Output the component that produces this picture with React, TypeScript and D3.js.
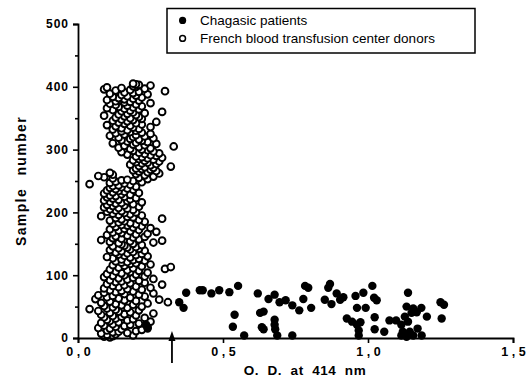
import { useRef, useEffect } from "react";
import * as d3 from "d3";

// O.D. at 414 nm for donors, sample number = index + 1
const donorOD = [
  0.11, 0.09, 0.12, 0.19, 0.10, 0.13, 0.08, 0.17, 0.12, 0.14, 0.20, 0.10, 0.22, 0.15, 0.11,
  0.07, 0.24, 0.13, 0.16, 0.09, 0.18, 0.12, 0.21, 0.08, 0.14, 0.25, 0.11, 0.17, 0.10, 0.19,
  0.13, 0.23, 0.09, 0.15, 0.12, 0.20, 0.08, 0.16, 0.26, 0.11, 0.18, 0.14, 0.07, 0.21, 0.13,
  0.04, 0.10, 0.17, 0.12, 0.22, 0.09, 0.15, 0.19, 0.13, 0.24, 0.08, 0.31, 0.11, 0.20, 0.16,
  0.28, 0.06, 0.14, 0.18, 0.10, 0.23, 0.12, 0.07, 0.21, 0.16, 0.26, 0.09, 0.13, 0.19, 0.15,
  0.11, 0.22, 0.17, 0.09, 0.25, 0.14, 0.20, 0.12, 0.16, 0.29, 0.10, 0.18, 0.23, 0.13, 0.15,
  0.21, 0.11, 0.17, 0.26, 0.14, 0.19, 0.09, 0.23, 0.12, 0.16, 0.20, 0.10, 0.15, 0.24, 0.18,
  0.13, 0.21, 0.17, 0.11, 0.30, 0.19, 0.14, 0.32, 0.22, 0.16, 0.12, 0.25, 0.18, 0.20, 0.15,
  0.17, 0.13, 0.23, 0.19, 0.15, 0.21, 0.12, 0.18, 0.10, 0.24, 0.16, 0.20, 0.14, 0.22, 0.17,
  0.13, 0.19, 0.15, 0.23, 0.11, 0.18, 0.21, 0.14, 0.17, 0.20, 0.12, 0.16, 0.22, 0.15, 0.19,
  0.14, 0.26, 0.11, 0.18, 0.29, 0.08, 0.21, 0.15, 0.12, 0.19, 0.23, 0.13, 0.17, 0.10, 0.20,
  0.24, 0.15, 0.12, 0.27, 0.18, 0.14, 0.21, 0.11, 0.16, 0.25, 0.19, 0.13, 0.22, 0.17, 0.15,
  0.20, 0.12, 0.18, 0.14, 0.23, 0.16, 0.11, 0.21, 0.15, 0.29, 0.13, 0.19, 0.17, 0.08, 0.22,
  0.14, 0.18, 0.12, 0.16, 0.20, 0.10, 0.15, 0.13, 0.19, 0.11, 0.17, 0.14, 0.09, 0.21, 0.12,
  0.16, 0.10, 0.19, 0.13, 0.15, 0.22, 0.11, 0.17, 0.09, 0.14, 0.18, 0.12, 0.20, 0.10, 0.16,
  0.13, 0.11, 0.18, 0.15, 0.09, 0.21, 0.12, 0.16, 0.14, 0.10, 0.19, 0.13, 0.17, 0.11, 0.15,
  0.20, 0.12, 0.14, 0.18, 0.04, 0.16, 0.11, 0.22, 0.13, 0.19, 0.15, 0.17, 0.24, 0.12, 0.21,
  0.09, 0.26, 0.07, 0.23, 0.12, 0.20, 0.28, 0.11, 0.24, 0.21, 0.27, 0.19, 0.25, 0.22, 0.20,
  0.26, 0.23, 0.32, 0.21, 0.25, 0.18, 0.27, 0.22, 0.24, 0.20, 0.28, 0.23, 0.19, 0.26, 0.21,
  0.24, 0.29, 0.22, 0.20, 0.27, 0.25, 0.17, 0.23, 0.28, 0.21, 0.15, 0.26, 0.19, 0.24, 0.22,
  0.18, 0.25, 0.14, 0.21, 0.33, 0.16, 0.23, 0.19, 0.27, 0.12, 0.20, 0.24, 0.17, 0.22, 0.15,
  0.21, 0.18, 0.26, 0.14, 0.19, 0.23, 0.11, 0.20, 0.16, 0.25, 0.13, 0.22, 0.18, 0.15, 0.20,
  0.17, 0.12, 0.21, 0.15, 0.19, 0.25, 0.13, 0.18, 0.10, 0.22, 0.16, 0.20, 0.14, 0.27, 0.17,
  0.12, 0.19, 0.15, 0.22, 0.18, 0.13, 0.21, 0.16, 0.09, 0.20, 0.14, 0.17, 0.23, 0.19, 0.29,
  0.15, 0.18, 0.12, 0.21, 0.16, 0.10, 0.19, 0.14, 0.22, 0.17, 0.13, 0.20, 0.11, 0.25, 0.16,
  0.18, 0.13, 0.21, 0.10, 0.16, 0.19, 0.14, 0.22, 0.12, 0.17, 0.20, 0.15, 0.24, 0.11, 0.19,
  0.16, 0.21, 0.30, 0.13, 0.18, 0.09, 0.23, 0.15, 0.10, 0.20, 0.19, 0.25, 0.21, 0.20, 0.19,
];

// Chagasic patients: O.D. and sample number
const chagasicOD = [
  0.235, 0.24, 0.349, 0.364, 0.373, 0.42, 0.43, 0.46, 0.487, 0.522,
  0.552, 0.54, 0.534, 0.573, 0.62, 0.628, 0.64, 0.634, 0.64, 0.657,
  0.678, 0.678, 0.678, 0.68, 0.687, 0.695, 0.716, 0.739, 0.739, 0.763,
  0.777, 0.783, 0.794, 0.804, 0.851, 0.863, 0.869, 0.874, 0.892, 0.904,
  0.915, 0.927, 0.945, 0.957, 0.962, 0.962, 0.968, 0.968, 0.974, 0.984,
  0.992, 1.015, 1.021, 1.03, 1.023, 1.023, 1.056, 1.074, 1.097, 1.115,
  1.115, 1.127, 1.133, 1.138, 1.138, 1.144, 1.15, 1.156, 1.168, 1.171,
  1.185, 1.184, 1.203, 1.25, 1.262, 1.254, 1.12, 1.133, 1.156,
];
const chagasicSample = [
  21, 15, 57, 48, 72, 76, 76, 71, 76, 73,
  83, 37, 18, 4, 71, 40, 42, 17, 14, 62,
  69, 29, 21, 14, 4, 57, 60, 52, 4, 44,
  62, 83, 80, 48, 61, 80, 86, 54, 71, 61,
  65, 31, 26, 67, 48, 21, 12, 4, 25, 72,
  48, 83, 64, 60, 33, 14, 10, 28, 28, 21,
  4, 34, 50, 72, 26, 10, 40, 47, 41, 15,
  4, 48, 34, 57, 53, 31, 10, 2, 4,
];

const xTicks = [0, 0.5, 1.0, 1.5];
const yTicks = [0, 100, 200, 300, 400, 500];
const yMinorTicks = [50, 150, 250, 350, 450];
const cutoff = 0.324;
const legendLabels = ["Chagasic patients", "French blood transfusion center donors"];

const font = "'Liberation Sans', Arial, Helvetica, sans-serif";

export default function App() {
  const xRef = useRef<SVGGElement>(null),
    yRef = useRef<SVGGElement>(null),
    yMinorRef = useRef<SVGGElement>(null);
  const width = 531,
    height = 383;

  const x = d3.scaleLinear().domain([0, 1.5]).range([78, 513]);
  const y = d3.scaleLinear().domain([0, 500]).range([338, 24]);

  useEffect(() => {
    const xa = d3
      .axisBottom(x)
      .tickValues(xTicks)
      .tickSize(5)
      .tickPadding(4)
      .tickFormat((d) => d3.format(".1f")(d as number).replace(".", ","));
    const ya = d3.axisLeft(y).tickValues(yTicks).tickSize(5).tickPadding(4);
    const ym = d3.axisLeft(y).tickValues(yMinorTicks).tickSize(3).tickFormat(() => "");

    const gx = d3.select(xRef.current).call(xa as any);
    const gy = d3.select(yRef.current).call(ya as any);
    const gm = d3.select(yMinorRef.current).call(ym as any);

    [gx, gy, gm].forEach((g) => {
      g.selectAll(".domain").attr("stroke", "#000").attr("stroke-width", 1.8);
      g.selectAll(".tick line").attr("stroke", "#000").attr("stroke-width", 1.6);
    });
    gm.select(".domain").remove();
    gx.selectAll(".tick text")
      .attr("font-family", font)
      .attr("font-weight", "bold")
      .attr("font-size", 12.5)
      .attr("letter-spacing", 3.5)
      .attr("dx", 1.7)
      .attr("fill", "#000");
    gy.selectAll(".tick text")
      .attr("font-family", font)
      .attr("font-weight", "bold")
      .attr("font-size", 12)
      .attr("letter-spacing", 1)
      .attr("fill", "#000");
  }, []);

  return (
    <svg
      width={width}
      height={height}
      viewBox={`0 0 ${width} ${height}`}
      style={{ position: "absolute", left: 0, top: 0, background: "#fff" }}
    >
      <rect width={width} height={height} fill="#fff" />
      <g>
        {donorOD.map((v, i) => (
          <circle
            key={"d" + i}
            cx={x(v)}
            cy={y(i + 1)}
            r={3.4}
            fill="#fff"
            stroke="#000"
            strokeWidth={1.9}
          />
        ))}
      </g>
      <g>
        {chagasicOD.map((v, i) => (
          <circle key={"c" + i} cx={x(v)} cy={y(chagasicSample[i])} r={4.2} fill="#000" />
        ))}
      </g>
      <g ref={xRef} transform={`translate(0, ${y(0)})`} />
      <g ref={yRef} transform={`translate(${x(0)}, 0)`} />
      <g ref={yMinorRef} transform={`translate(${x(0)}, 0)`} />

      {/* cutoff arrow */}
      <line x1={x(cutoff)} x2={x(cutoff)} y1={339} y2={363} stroke="#000" strokeWidth={1.8} />
      <path
        d={`M${x(cutoff)},331 L${x(cutoff) - 3.5},341 L${x(cutoff) + 3.5},341 Z`}
        fill="#000"
      />

      <text
        x={305}
        y={375}
        textAnchor="middle"
        fontFamily={font}
        fontWeight="bold"
        fontSize={13.5}
        letterSpacing={0.6}
        wordSpacing={4}
      >
        O. D. at 414 nm
      </text>
      <text
        transform={`translate(26, 181) rotate(-90)`}
        textAnchor="middle"
        fontFamily={font}
        fontWeight="bold"
        fontSize={14}
        letterSpacing={1.4}
        wordSpacing={7}
      >
        Sample number
      </text>

      {/* legend */}
      <rect x={167} y={8.5} width={308} height={44.5} fill="#fff" stroke="#000" strokeWidth={1.5} />
      <circle cx={182.6} cy={20.4} r={3.6} fill="#000" />
      <circle cx={182.6} cy={38.4} r={2.9} fill="#fff" stroke="#000" strokeWidth={1.5} />
      {legendLabels.map((t, i) => (
        <text key={t} x={200} y={25 + i * 18.3} fontFamily={font} fontSize={13.5} fill="#000">
          {t}
        </text>
      ))}
    </svg>
  );
}
